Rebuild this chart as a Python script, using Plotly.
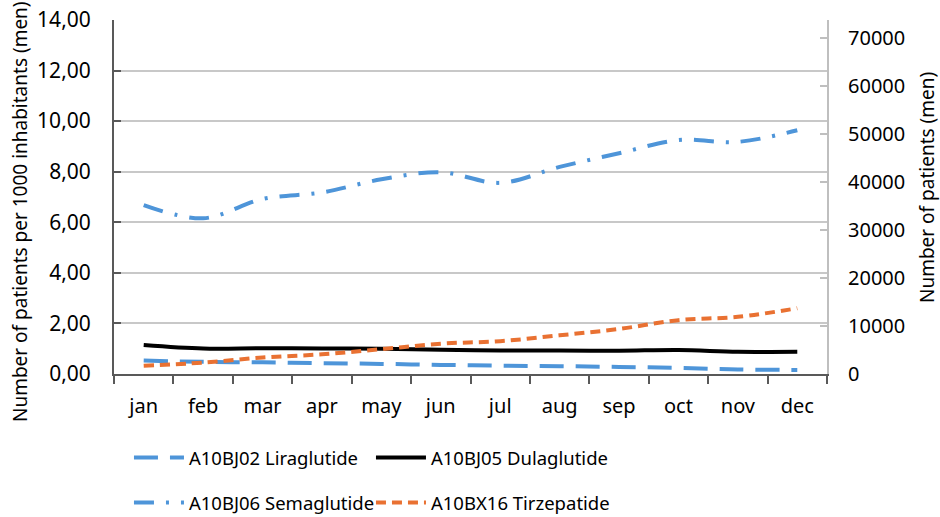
import plotly.graph_objects as go

months = ["jan", "feb", "mar", "apr", "may", "jun", "jul", "aug", "sep", "oct", "nov", "dec"]

# patients per 1000 inhabitants (men)
liraglutide = [0.53, 0.48, 0.46, 0.43, 0.40, 0.36, 0.33, 0.31, 0.28, 0.24, 0.18, 0.16]
dulaglutide = [1.15, 1.01, 1.02, 1.01, 1.00, 0.96, 0.93, 0.93, 0.92, 0.95, 0.88, 0.88]
semaglutide = [6.68, 6.16, 6.92, 7.18, 7.70, 7.98, 7.56, 8.19, 8.73, 9.25, 9.18, 9.64]
tirzepatide = [0.33, 0.45, 0.65, 0.78, 0.98, 1.20, 1.30, 1.53, 1.78, 2.13, 2.26, 2.60]

blue = "#4E95D9"
orange = "#E97132"
font = "Noto Sans"

fig = go.Figure()

fig.add_trace(go.Scatter(x=months, y=liraglutide, name="A10BJ02 Liraglutide", mode="lines",
                         legend="legend",
                         line=dict(color=blue, width=4, dash="24px,12px", shape="spline")))
fig.add_trace(go.Scatter(x=months, y=dulaglutide, name="A10BJ05 Dulaglutide", mode="lines",
                         legend="legend",
                         line=dict(color="black", width=4, shape="spline")))
fig.add_trace(go.Scatter(x=months, y=semaglutide, name="A10BJ06 Semaglutide", mode="lines",
                         legend="legend2",
                         line=dict(color=blue, width=4, dash="20px,12px,3px,12px", shape="spline")))
fig.add_trace(go.Scatter(x=months, y=tirzepatide, name="A10BX16 Tirzepatide", mode="lines",
                         legend="legend2",
                         line=dict(color=orange, width=4, dash="10px,6px", shape="spline")))
# invisible trace so the secondary axis is drawn
fig.add_trace(go.Scatter(x=months, y=[None] * len(months), yaxis="y2", showlegend=False,
                         hoverinfo="skip", mode="lines"))

legend_style = dict(
    orientation="h",
    xref="container",
    yref="container",
    x=0.1372,
    xanchor="left",
    yanchor="middle",
    entrywidth=177,
    entrywidthmode="pixels",
    font=dict(family=font, size=18.5),
    itemwidth=50,
)

fig.update_layout(
    width=940,
    height=517,
    margin=dict(l=114, r=113, t=20, b=143),
    paper_bgcolor="white",
    plot_bgcolor="white",
    font=dict(family=font, size=20, color="black"),
    separators=",.",
    xaxis=dict(
        type="category",
        range=[-0.5, 11.5],
        tickson="boundaries",
        ticks="outside",
        ticklen=8,
        tickcolor="#595959",
        tickwidth=2,
        showline=True,
        linecolor="#595959",
        linewidth=2,
        showgrid=False,
        ticklabelstandoff=13,
        automargin=False,
    ),
    yaxis=dict(
        range=[0, 14],
        dtick=2,
        tickformat=".2f",
        tickfont=dict(size=21),
        ticks="inside",
        ticklen=7,
        tickcolor="#595959",
        tickwidth=2,
        showline=True,
        linecolor="#595959",
        linewidth=2,
        gridcolor="#c8c8c8",
        gridwidth=2,
        zeroline=False,
        ticklabelstandoff=17,
        automargin=False,
    ),
    yaxis2=dict(
        overlaying="y",
        side="right",
        range=[0, 73680],
        dtick=10000,
        tickformat="d",
        ticks="inside",
        ticklen=7,
        tickcolor="#bfbfbf",
        tickwidth=2,
        showline=True,
        linecolor="#bfbfbf",
        linewidth=2,
        showgrid=False,
        zeroline=False,
        ticklabelstandoff=15,
        automargin=False,
    ),
    legend=dict(legend_style, y=1 - 458 / 517),
    legend2=dict(legend_style, y=1 - 503 / 517),
    annotations=[
        dict(text="Number of patients per 1000 inhabitants (men)", textangle=-90,
             xref="paper", yref="paper", x=-0.1318, y=0.4576,
             xanchor="center", yanchor="middle", showarrow=False, font=dict(size=19)),
        dict(text="Number of patients (men)", textangle=-90,
             xref="paper", yref="paper", x=1.1403, y=0.5254,
             xanchor="center", yanchor="middle", showarrow=False, font=dict(size=19)),
    ],
)

# drop the default page margin so the figure sits at the window's corner
fig.write_html("out.html", config={"displayModeBar": False},
               post_script="document.body.style.margin = '0';")
